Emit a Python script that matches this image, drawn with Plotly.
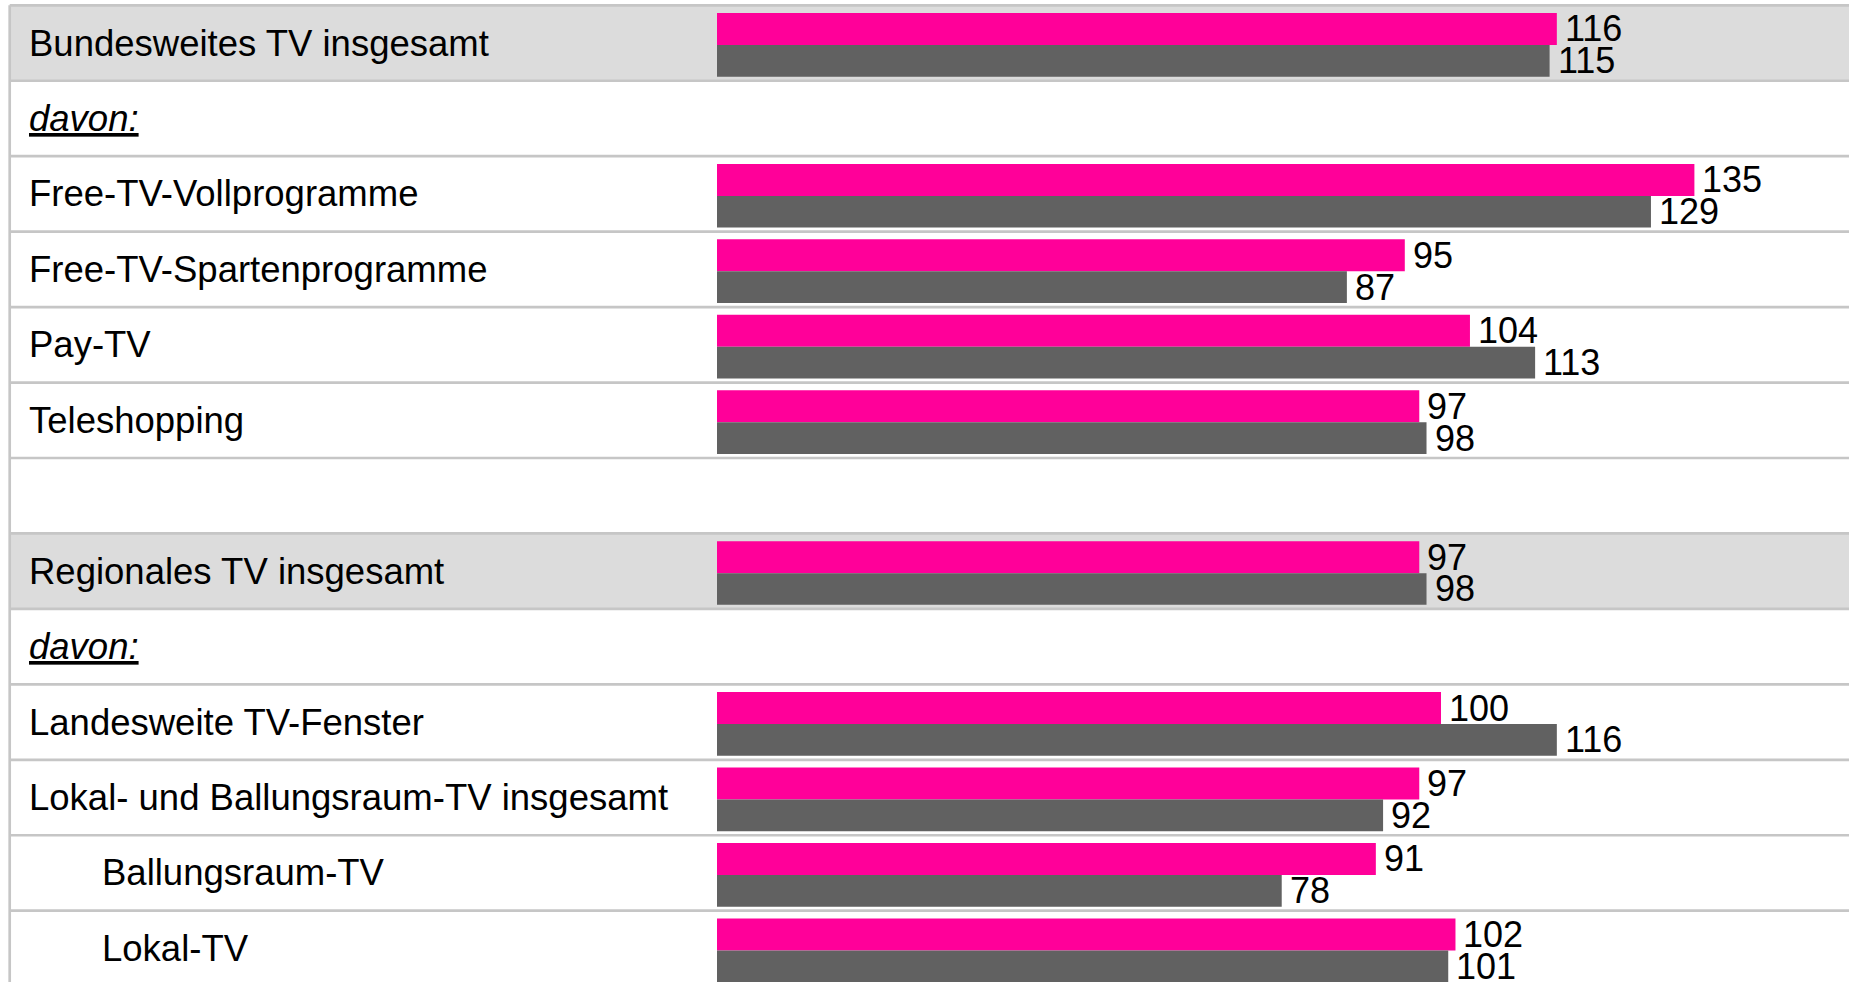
import plotly.graph_objects as go

# ---- data ----
labels = [
    "Bundesweites TV insgesamt",
    "<i><u>davon:</u></i>",
    "Free-TV-Vollprogramme",
    "Free-TV-Spartenprogramme",
    "Pay-TV",
    "Teleshopping",
    "",
    "Regionales TV insgesamt",
    "<i><u>davon:</u></i>",
    "Landesweite TV-Fenster",
    "Lokal- und Ballungsraum-TV insgesamt",
    "Ballungsraum-TV",
    "Lokal-TV",
]
indent = [0, 0, 0, 0, 0, 0, 0, 0, 0, 0, 0, 1, 1]
highlight = [1, 0, 0, 0, 0, 0, 0, 1, 0, 0, 0, 0, 0]
series_pink = [116, None, 135, 95, 104, 97, None, 97, None, 100, 97, 91, 102]
series_gray = [115, None, 129, 87, 113, 98, None, 98, None, 116, 92, 78, 101]

# ---- styling ----
W, H = 1849, 982
PINK = "#FF0099"
GRAY = "#616161"
BAND = "#DCDCDC"
LINE = "#C6C6C6"
FONT = "Liberation Sans, Arial, sans-serif"

rows = list(range(len(labels)))
row_h = 75.45
top_px = 5.3
y_top = -(top_px + row_h / 2) / row_h
y_bot = y_top + H / row_h

bar_start_px = 717
px_per_unit = 7.24
x_max = (W - bar_start_px) / px_per_unit
left_line_px = 9.7

fig = go.Figure()
fig.add_trace(go.Bar(
    y=rows, x=series_pink, orientation="h", marker=dict(color=PINK, line=dict(width=0)),
    width=0.424, offset=-0.398, showlegend=False, hoverinfo="skip", name="pink"))
fig.add_trace(go.Bar(
    y=rows, x=series_gray, orientation="h", marker=dict(color=GRAY, line=dict(width=0)),
    width=0.42, offset=0.026, showlegend=False, hoverinfo="skip", name="gray"))

shapes = []
# highlighted bands
for r, hl in zip(rows, highlight):
    if hl:
        shapes.append(dict(type="rect", xref="paper", yref="y",
                           x0=(left_line_px + 1) / W, x1=1, y0=r - 0.5, y1=r + 0.5,
                           fillcolor=BAND, line=dict(width=0), layer="below"))
# horizontal row lines
for r in rows + [len(rows)]:
    shapes.append(dict(type="line", xref="paper", yref="y",
                       x0=left_line_px / W, x1=1, y0=r - 0.5, y1=r - 0.5,
                       line=dict(color=LINE, width=2.7), layer="above"))
# left border
shapes.append(dict(type="line", xref="paper", yref="y",
                   x0=left_line_px / W, x1=left_line_px / W, y0=-0.5, y1=len(rows) + 0.5,
                   line=dict(color=LINE, width=2.7), layer="above"))

annotations = []
for r, lab, ind in zip(rows, labels, indent):
    if not lab:
        continue
    annotations.append(dict(
        xref="paper", yref="y", x=(27 if not ind else 100) / W, y=r,
        xanchor="left", yanchor="middle", text=lab, showarrow=False,
        font=dict(family=FONT, size=36.5, color="black")))

for r, vp, vg in zip(rows, series_pink, series_gray):
    if vp is not None:
        annotations.append(dict(
            xref="x", yref="y", x=vp, y=r - 0.398 + 0.424 / 2, xshift=6,
            xanchor="left", yanchor="middle", text=str(vp), showarrow=False,
            font=dict(family=FONT, size=36, color="black")))
    if vg is not None:
        annotations.append(dict(
            xref="x", yref="y", x=vg, y=r + 0.026 + 0.42 / 2, xshift=6,
            xanchor="left", yanchor="middle", text=str(vg), showarrow=False,
            font=dict(family=FONT, size=36, color="black")))

fig.update_layout(
    width=W, height=H,
    margin=dict(l=0, r=0, t=0, b=0),
    paper_bgcolor="white", plot_bgcolor="white",
    barmode="overlay",
    shapes=shapes, annotations=annotations,
    xaxis=dict(domain=[bar_start_px / W, 1], range=[0, x_max], visible=False,
               showgrid=False, zeroline=False, fixedrange=True),
    yaxis=dict(range=[y_bot, y_top], visible=False, showgrid=False,
               zeroline=False, fixedrange=True),
    font=dict(family=FONT),
)

fig.write_html(
    "out.html",
    config={"displayModeBar": False},
    post_script="document.body.style.margin='0';document.body.style.overflow='hidden';",
)
